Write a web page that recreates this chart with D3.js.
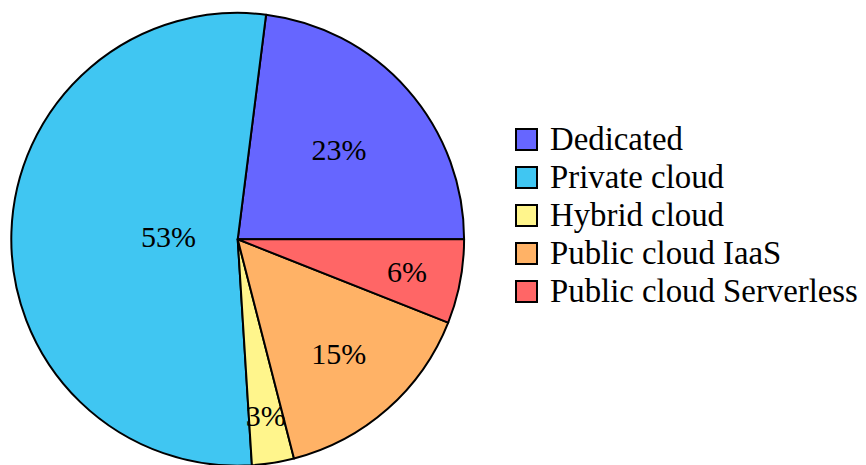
<!DOCTYPE html>
<html>
<head>
<meta charset="utf-8">
<script src="https://cdn.jsdelivr.net/npm/d3@7"></script>
<style>
html,body{margin:0;padding:0;background:#fff;}
svg{display:block;}
text{font-family:"Liberation Serif","Times New Roman",serif;fill:#000;}
</style>
</head>
<body>
<svg id="chart" width="866" height="465"></svg>
<script>
const categories = ["Dedicated", "Private cloud", "Hybrid cloud", "Public cloud IaaS", "Public cloud Serverless"];
const values = [23, 53, 3, 15, 6];
const labels = ["23%", "53%", "3%", "15%", "6%"];
const colors = ["#6666ff", "#40c6f2", "#fff58c", "#ffb266", "#ff6666"];

const W = 866, H = 465;
const cx = 237.7, cy = 239.3, R = 226.4;
const svg = d3.select("#chart");
const g = svg.append("g").attr("transform", `translate(${cx},${cy})`);

// pgf-pie style: start at east, go counter-clockwise
const pie = d3.pie().value(d => d).sort(null)
  .startAngle(Math.PI / 2).endAngle(Math.PI / 2 - 2 * Math.PI);
const arcs = pie(values);
const arc = d3.arc().innerRadius(0).outerRadius(R);

g.selectAll("path.slice").data(arcs).join("path")
  .attr("class", "slice")
  .attr("d", arc)
  .attr("fill", (d, i) => colors[i])
  .attr("stroke", "#000")
  .attr("stroke-width", 2)
  .attr("stroke-linejoin", "round");

// label radius depends on the slice size (pgf-pie like placement)
const labelFrac = d3.scaleLinear().domain([0, 100]).range([0.82, -0.15]);
g.selectAll("text.lbl").data(arcs).join("text")
  .attr("class", "lbl")
  .attr("x", d => { const a = (d.startAngle + d.endAngle) / 2; return Math.sin(a) * R * labelFrac(d.value); })
  .attr("y", d => { const a = (d.startAngle + d.endAngle) / 2; return -Math.cos(a) * R * labelFrac(d.value) + 10; })
  .attr("text-anchor", "middle")
  .attr("font-size", 30)
  .text((d, i) => labels[i]);

// legend
const legend = svg.append("g").attr("transform", "translate(515,128)");
const rowY = d3.scalePoint().domain(categories).range([0, 152]);
const rows = legend.selectAll("g.row").data(categories).join("g")
  .attr("class", "row")
  .attr("transform", d => `translate(0,${rowY(d)})`);
rows.append("rect")
  .attr("x", 1).attr("y", 1).attr("width", 21).attr("height", 21)
  .attr("fill", (d, i) => colors[i])
  .attr("stroke", "#000").attr("stroke-width", 2);
rows.append("text")
  .attr("x", 35).attr("y", 22)
  .attr("font-size", 32.8)
  .text(d => d);
</script>
</body>
</html>
